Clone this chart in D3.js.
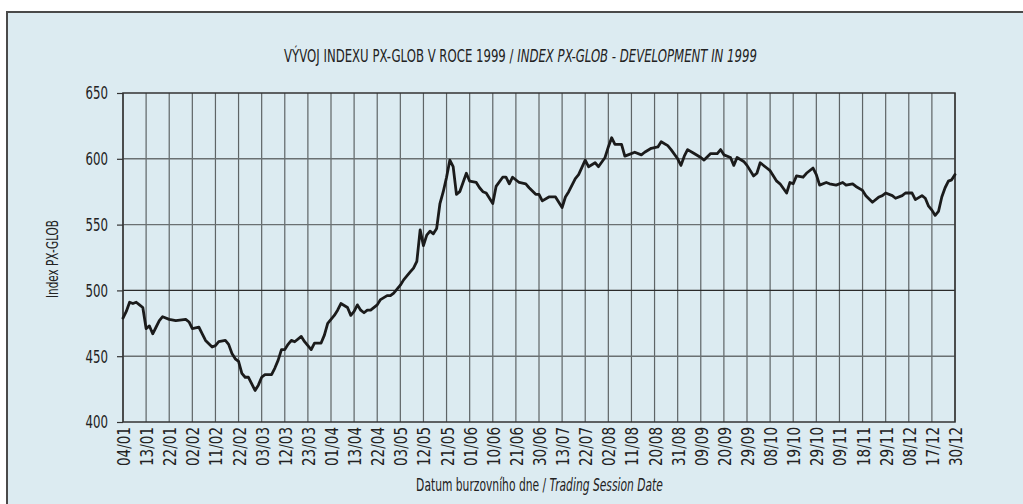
<!DOCTYPE html>
<html>
<head>
<meta charset="utf-8">
<script src="https://cdn.jsdelivr.net/npm/d3@7"></script>
<style>
  html, body { margin: 0; padding: 0; background: #ffffff; }
  svg { display: block; }
  text { font-family: "DejaVu Sans Condensed", "Liberation Sans Narrow", sans-serif; font-stretch: condensed; fill: #222; }
</style>
</head>
<body>
<svg id="chart" width="1023" height="504"></svg>
<script>
// ---- data ----
const titleMain = "VÝVOJ INDEXU PX-GLOB V ROCE 1999 / ";
const titleItalic = "INDEX PX-GLOB - DEVELOPMENT IN 1999";
const yTitle = "Index PX-GLOB";
const xTitleMain = "Datum burzovního dne / ";
const xTitleItalic = "Trading Session Date";

// tick labels, one every 7 trading sessions
const tickLabels = ["04/01","13/01","22/01","02/02","11/02","22/02","03/03","12/03","23/03",
  "01/04","13/04","22/04","03/05","12/05","21/05","01/06","10/06","21/06","30/06","13/07",
  "22/07","02/08","11/08","20/08","31/08","09/09","20/09","29/09","08/10","19/10","29/10",
  "09/11","18/11","29/11","08/12","17/12","30/12"];
const sessionsPerTick = 7;
const yTicks = [400, 450, 500, 550, 600, 650];

// trading session index (0 = 04/01/1999) and index value
const sessionIdx = [0,1,2,3,4,5,6,7,8,9,10,11,12,14,16,19,20,21,23,24,25,27,28,29,31,32,33,34,35,36,37,38,39,40,41,42,43,45,46,47,48,49,50,51,52,54,55,57,58,60,61,62,64,65,66,68,69,70,71,72,73,74,75,77,78,80,81,82,84,85,87,88,89,90,91,92,93,94,95,96,97,98,99,100,101,102,103,104,105,107,108,109,110,112,113,115,116,117,118,120,122,123,125,126,127,129,131,133,134,135,137,138,140,141,143,144,146,147,148,149,151,152,153,155,157,158,160,162,163,165,166,168,169,170,171,173,175,176,178,180,181,182,184,185,186,188,189,191,192,193,195,196,198,199,201,202,203,204,206,207,209,210,211,213,214,216,218,219,221,222,224,225,227,229,230,231,233,234,236,237,239,240,242,243,244,245,246,247,248,249,250,251,252];
const pxGlob = [479,484,491,490,491,489,487,471,473,467,472,477,480,478,477,478,476,471,472,467,462,457,458,461,462,459,452,448,446,437,434,434,429,424,428,434,436,436,441,447,455,455,459,462,461,465,461,455,460,460,466,475,481,485,490,487,481,484,489,485,483,485,485,489,493,496,496,498,504,508,514,517,522,546,534,542,545,543,547,566,575,586,599,594,573,575,582,589,583,582,578,575,574,566,579,586,586,581,586,582,581,578,573,573,568,571,571,563,571,575,585,588,599,594,597,594,601,609,616,611,611,602,603,605,603,605,608,609,613,610,607,600,595,602,607,604,601,599,604,604,607,603,601,595,601,598,595,587,589,597,593,591,583,581,574,582,581,587,586,589,593,588,580,582,581,580,582,580,581,579,576,572,567,571,572,574,572,570,572,574,574,569,572,570,564,561,557,560,571,578,583,584,588];

// ---- drawing ----
const W = 1023, H = 504;
const plot = { left: 123, right: 955, top: 93, bottom: 422 };
const svg = d3.select("#chart");

// fit helper: horizontal scale so that a text's natural width equals target
function fitScale(textSel, target) {
  const w = textSel.node().getComputedTextLength();
  return w > 0 ? target / w : 1;
}

// panel background and border
svg.append("rect").attr("x", 7).attr("y", 12).attr("width", W - 7).attr("height", H - 12)
  .attr("fill", "#dcebf1");
svg.append("path").attr("d", `M7,${H} V12 H${W}`).attr("fill", "none")
  .attr("stroke", "#4a4a4a").attr("stroke-width", 2);

const lastIdx = (tickLabels.length - 1) * sessionsPerTick;
const tickIdx = tickLabels.map((d, i) => i * sessionsPerTick);

const x = d3.scaleLinear().domain([0, lastIdx]).range([plot.left, plot.right]);
const y = d3.scaleLinear().domain([400, 650]).range([plot.bottom, plot.top]);

// grid
const grid = svg.append("g");
grid.selectAll("line.v").data(tickIdx).join("line").attr("class", "v")
  .attr("x1", d => x(d)).attr("x2", d => x(d))
  .attr("y1", y(650)).attr("y2", y(400))
  .attr("stroke", "#5e6466").attr("stroke-width", 1.2);
grid.selectAll("line.h").data(yTicks.filter(v => v > 400 && v < 650)).join("line").attr("class", "h")
  .attr("x1", x(0)).attr("x2", x(lastIdx))
  .attr("y1", d => y(d)).attr("y2", d => y(d))
  .attr("stroke", d => d === 500 ? "#2a2a2a" : "#6a7072").attr("stroke-width", 1.4);

// frame
svg.append("rect").attr("x", x(0)).attr("y", y(650))
  .attr("width", x(lastIdx) - x(0)).attr("height", y(400) - y(650))
  .attr("fill", "none").attr("stroke", "#333").attr("stroke-width", 1.5);

// y axis
const yAxis = svg.append("g").attr("transform", `translate(${plot.left},0)`)
  .call(d3.axisLeft(y).tickValues(yTicks).tickSize(6).tickPadding(9));
yAxis.select(".domain").remove();
yAxis.selectAll(".tick line").attr("stroke", "#333").attr("stroke-width", 1.2);
const yTexts = yAxis.selectAll(".tick text").attr("fill", "#222")
  .style("font-size", "17px").style("text-anchor", "end");
const ySx = fitScale(yAxis.select(".tick text"), 22.5);
yTexts.attr("x", 0).attr("dy", "0.35em")
  .attr("transform", `translate(-15,0) scale(${ySx},1)`);

// x axis
const xAxis = svg.append("g").attr("transform", `translate(0,${plot.bottom})`)
  .call(d3.axisBottom(x).tickValues(tickIdx).tickFormat((d, i) => tickLabels[i]).tickSize(0));
xAxis.select(".domain").remove();
const xTexts = xAxis.selectAll(".tick text").attr("fill", "#222")
  .style("font-size", "18px").style("text-anchor", "end")
  .attr("x", 0).attr("y", 0).attr("dy", "0.36em");
const xSx = fitScale(xAxis.select(".tick text"), 39);
xTexts.attr("transform", `rotate(-90) translate(-5,0) scale(${xSx},1)`);

// line
const line = d3.line().x(d => x(d[0])).y(d => y(d[1])).curve(d3.curveLinear);
const pts = sessionIdx.map((s, i) => [s, pxGlob[i]]);
svg.append("path").datum(pts).attr("d", line)
  .attr("fill", "none").attr("stroke", "#1b1b1b").attr("stroke-width", 2.8)
  .attr("stroke-linejoin", "round").attr("stroke-linecap", "round");

// title
const tg = svg.append("g");
const tt = tg.append("text").attr("text-anchor", "middle").style("font-size", "18px");
tt.append("tspan").text(titleMain);
tt.append("tspan").style("font-style", "italic").text(titleItalic);
tg.attr("transform", `translate(520.5,62) scale(${fitScale(tt, 473)},1)`);

// y title
const yg = svg.append("g");
const yt = yg.append("text").attr("text-anchor", "middle").style("font-size", "16px").text(yTitle);
yg.attr("transform", `translate(58,259) rotate(-90) scale(${fitScale(yt, 78)},1)`);

// x title
const xg = svg.append("g");
const xt = xg.append("text").attr("text-anchor", "middle").style("font-size", "17px");
xt.append("tspan").text(xTitleMain);
xt.append("tspan").style("font-style", "italic").text(xTitleItalic);
xg.attr("transform", `translate(539.5,491) scale(${fitScale(xt, 247)},1)`);
</script>
</body>
</html>
